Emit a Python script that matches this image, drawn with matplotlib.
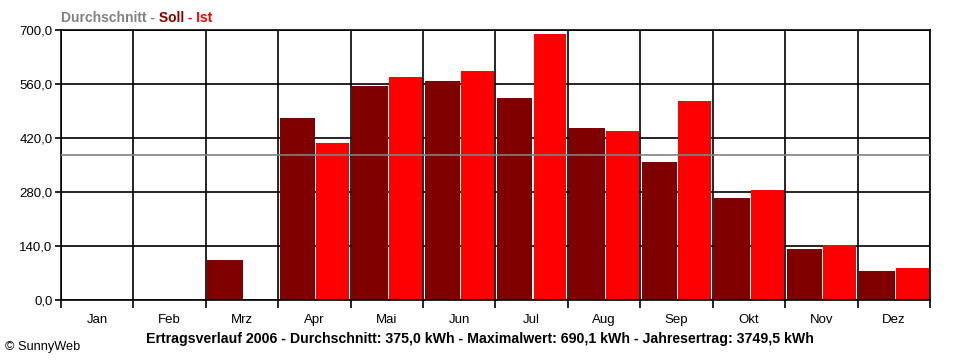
import numpy as np
import matplotlib.pyplot as plt

# Monatsdaten (kWh)
monate = ['Jan', 'Feb', 'Mrz', 'Apr', 'Mai', 'Jun', 'Jul', 'Aug', 'Sep', 'Okt', 'Nov', 'Dez']
soll = [0, 0, 104, 472, 555, 568, 524, 446, 358, 265, 132, 75]
ist = [0, 0, 0, 408, 577, 595, 690.1, 437, 517, 286, 143, 83]
durchschnitt = 375.0
yticks = [0, 140, 280, 420, 560, 700]

plt.rcParams['font.family'] = ['Liberation Sans', 'DejaVu Sans']

fig = plt.figure(figsize=(9.6, 3.6), dpi=100)
ax = fig.add_axes([61/960, 60/360, 869/960, 270/360])

x = np.arange(len(monate))
ax.bar(x + 0.02, soll, width=0.49, align='edge', color='#800000', zorder=2)
ax.bar(x + 0.525, ist, width=0.455, align='edge', color='#ff0000', zorder=2)
ax.axhline(durchschnitt, color='#808080', lw=1.2, zorder=3)

ax.set_xlim(0, 12)
ax.set_ylim(0, 700)
ax.set_xticks(np.arange(13))
ax.set_xticklabels([])
ax.set_xticks(x + 0.5, minor=True)
ax.set_xticklabels(monate, minor=True)
ax.tick_params(axis='x', which='major', length=6, width=1.2, color='black', direction='out')
ax.tick_params(axis='x', which='minor', length=0, pad=10, labelsize=9.5)
ax.set_yticks(yticks)
ax.yaxis.set_major_formatter(plt.FuncFormatter(lambda v, p: ('%.1f' % v).replace('.', ',')))
ax.tick_params(axis='y', length=4, width=1.2, labelsize=9.5, pad=2)
ax.grid(True, which='major', color='black', lw=1.2, zorder=1)
ax.set_axisbelow(True)
for s in ax.spines.values():
    s.set_linewidth(1.2)

# Legende oben links
teile = [('Durchschnitt -', '#808080'), (' Soll', '#800000'), (' - Ist', '#ff0000')]
prev = fig.text(61/960, 1 - 22/360, teile[0][0], color=teile[0][1], fontsize=10, fontweight='bold', va='baseline')
for txt, col in teile[1:]:
    prev = ax.annotate(txt, xy=(1, 0), xycoords=prev, va='bottom', ha='left',
                       color=col, fontsize=10, fontweight='bold', annotation_clip=False)

fig.text(480/960, 1 - 339/360, 'Ertragsverlauf 2006 - Durchschnitt: 375,0 kWh - Maximalwert: 690,1 kWh - Jahresertrag: 3749,5 kWh',
         ha='center', va='center', fontsize=10.2, fontweight='bold')
fig.text(5/960, 1 - 347/360, '© SunnyWeb', fontsize=9.2, va='center')

fig.savefig('out.png', dpi=100)
